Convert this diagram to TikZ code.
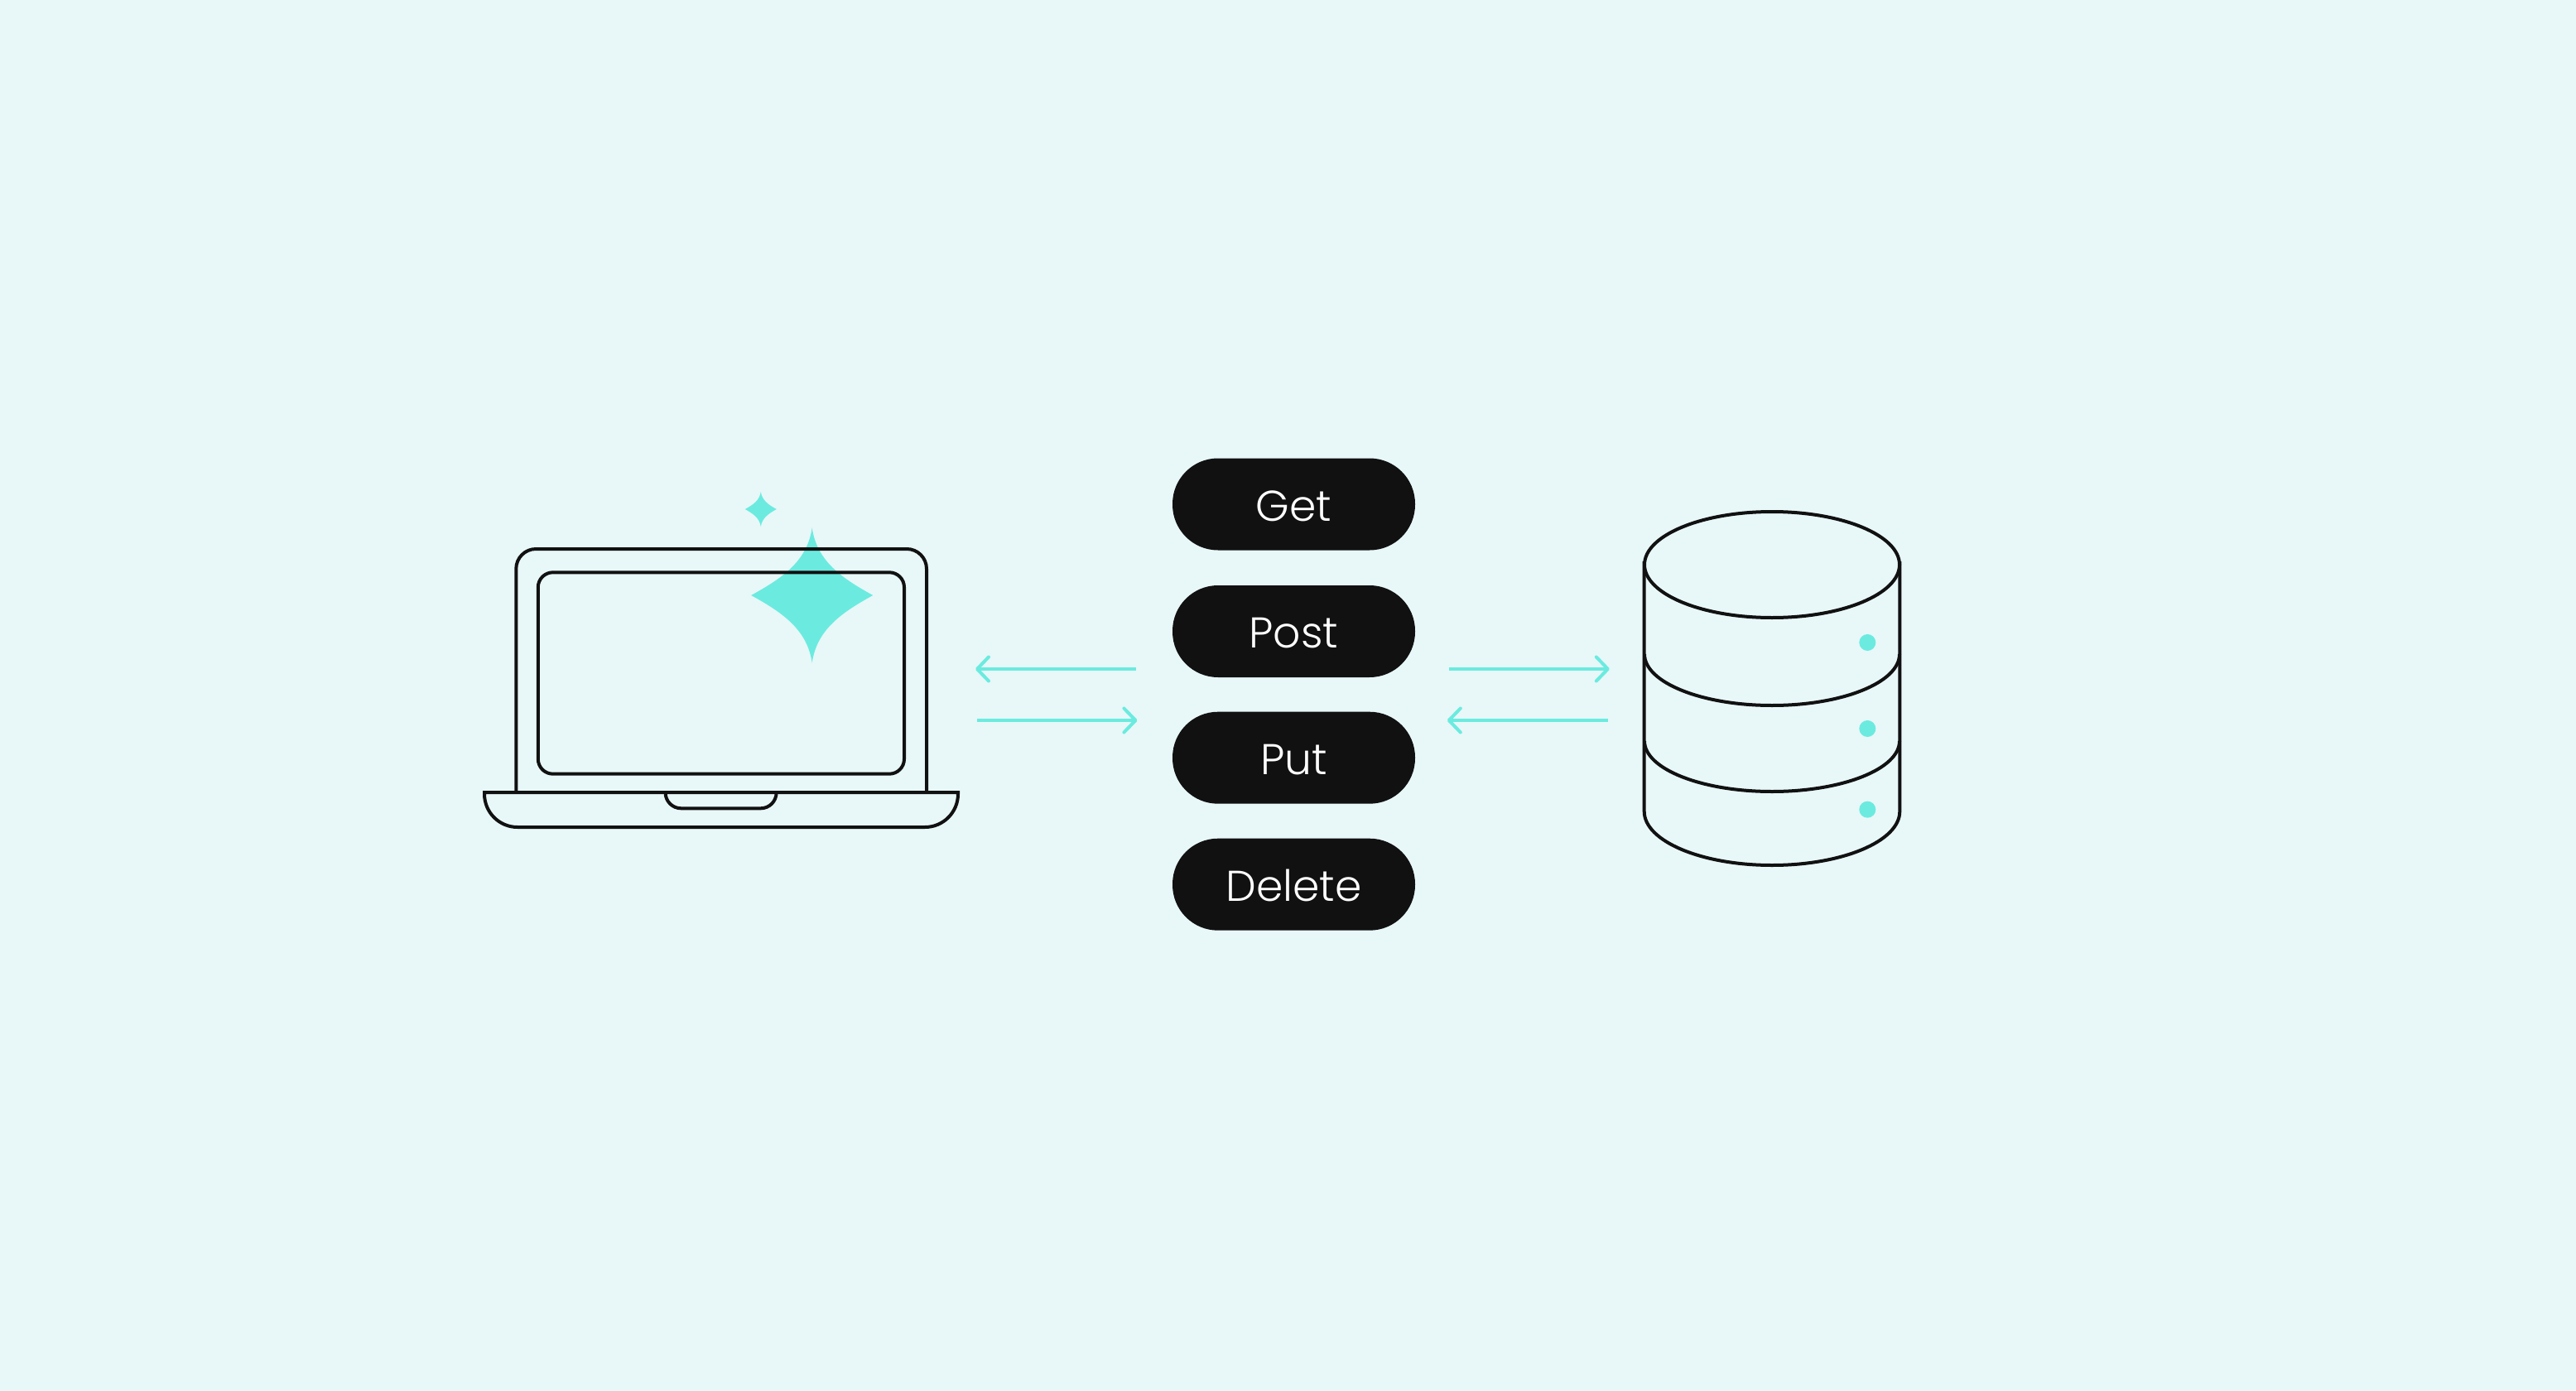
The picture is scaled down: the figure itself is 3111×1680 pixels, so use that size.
\documentclass[tikz,border=0pt]{standalone}
\usepackage{fontspec}
\usetikzlibrary{arrows.meta}
\newfontfamily\pillfont{Poppins Light}
\definecolor{bgc}{HTML}{E8F7F8}
\definecolor{ink}{HTML}{111111}
\definecolor{aqua}{HTML}{6BEBDF}
\tikzset{
  outline/.style={draw=ink,line width=4pt},
  pill/.style={fill=ink,text=white,rounded corners=55pt,minimum width=293pt,minimum height=111pt,inner sep=0pt,
    font=\pillfont\fontsize{52pt}{60pt}\selectfont,text height=40pt,text depth=0pt},
  flow/.style={draw=aqua,line width=4pt,-{Straight Barb[length=14pt,width=29pt,line width=4pt,round]}},
  dot/.style={fill=aqua,circle,minimum size=20pt,inner sep=0pt}
}
\newcommand{\sparkle}[4]{%
  \fill[aqua] (#1,#2-#4)
   .. controls (#1+0.08*#3,#2-0.5*#4) and (#1+0.5*#3,#2-0.25*#4) .. (#1+#3,#2)
   .. controls (#1+0.5*#3,#2+0.25*#4) and (#1+0.08*#3,#2+0.5*#4) .. (#1,#2+#4)
   .. controls (#1-0.08*#3,#2+0.5*#4) and (#1-0.5*#3,#2+0.25*#4) .. (#1-#3,#2)
   .. controls (#1-0.5*#3,#2-0.25*#4) and (#1-0.08*#3,#2-0.5*#4) .. (#1,#2-#4) -- cycle;}
\begin{document}
\begin{tikzpicture}[x=1pt,y=-1pt]
\fill[bgc] (0,0) rectangle (3111,1680);
\useasboundingbox (0,0) rectangle (3111,1680);
% sparkles
\sparkle{980.7}{719}{73.5}{81.5}
\sparkle{918.8}{615}{19}{21}
% laptop
\draw[outline,rounded corners=24pt] (623.3,957) -- (623.3,663) -- (1119,663) -- (1119,957);
\draw[outline,rounded corners=18pt] (649.8,691.3) rectangle (1092,934.7);
\draw[outline] (585,957) -- (1157,957) [rounded corners=40pt] -- (1157,999) -- (585,999) [sharp corners] -- cycle;
\draw[outline,rounded corners=19pt] (803.6,957) -- (803.6,976.3) -- (937.6,976.3) -- (937.6,957);
% pills
\node[pill] (get) at (1562.5,609) {Get};
\node[pill] (post) at (1562.5,762.5) {Post};
\node[pill] (put) at (1562.5,915.2) {Put};
\node[pill] (delete) at (1562.5,1068.2) {Delete};
% arrows
\coordinate (la) at (1371.7,808); \coordinate (lb) at (1178,808);
\coordinate (lc) at (1180,870); \coordinate (ld) at (1373.4,870);
\coordinate (ra) at (1750,808); \coordinate (rb) at (1943.8,808);
\coordinate (rc) at (1941.6,870); \coordinate (rd) at (1747.8,870);
\draw[flow] (la) -- (lb);
\draw[flow] (lc) -- (ld);
\draw[flow] (ra) -- (rb);
\draw[flow] (rc) -- (rd);
% database
\draw[outline] (2140,682) ellipse [x radius=154pt,y radius=64pt];
\draw[outline] (1985.7,678) -- (1985.7,980) arc[start angle=180,end angle=360,x radius=154.3pt,y radius=65pt] -- (2294.3,678);
\draw[outline] (1986,790) arc[start angle=180,end angle=360,x radius=154pt,y radius=62pt];
\draw[outline] (1986,895) arc[start angle=180,end angle=360,x radius=154pt,y radius=61pt];
\node[dot] (d1) at (2255.3,776) {};
\node[dot] (d2) at (2255.3,880) {};
\node[dot] (d3) at (2255.3,977.7) {};
\end{tikzpicture}
\end{document}
